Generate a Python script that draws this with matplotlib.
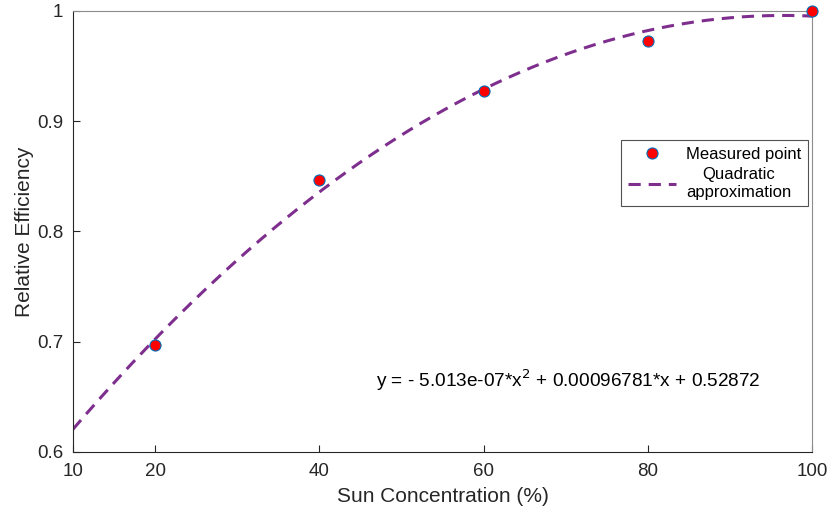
import numpy as np
import matplotlib
matplotlib.use("Agg")
import matplotlib.pyplot as plt

plt.rcParams['font.family'] = ['Liberation Sans', 'DejaVu Sans']

# measured data
conc = [20, 40, 60, 80, 100]
eff = [0.697, 0.847, 0.927, 0.973, 1.0]

# quadratic fit coefficients (x in W/m^2 = 10 * percent)
a2 = -5.013e-07
a1 = 0.00096781
a0 = 0.52872
eq_text = r"y = - 5.013e-07*x$^{2}$ + 0.00096781*x + 0.52872"

xticks = [10, 20, 40, 60, 80, 100]
yticks = [0.6, 0.7, 0.8, 0.9, 1.0]
yticklabels = ["0.6", "0.7", "0.8", "0.9", "1"]

fig = plt.figure(figsize=(8.29, 5.17), dpi=100)
ax = fig.add_axes([0.088, 0.126, 0.8915, 0.853])

xf = np.linspace(10, 100, 300)
yf = a2 * (10 * xf) ** 2 + a1 * (10 * xf) + a0
ax.plot(conc, eff, 'o', color='red', markeredgecolor=(0.0, 0.447, 0.741),
        markeredgewidth=0.8, markersize=8, label='Measured point', zorder=3,
        clip_on=False)
ax.plot(xf, yf, '--', color=(0.494, 0.184, 0.556), linewidth=2.2,
        dashes=(4, 2.6), label='Quadratic\napproximation', zorder=2)

ax.set_xlim(10, 100)
ax.set_ylim(0.6, 1.0)
ax.set_xticks(xticks)
ax.set_yticks(yticks)
ax.set_yticklabels(yticklabels)
ax.tick_params(direction='in', labelsize=13.5, colors='#262626', length=5)
ax.tick_params(axis='y', pad=7)
ax.tick_params(axis='x', pad=8)
for s in ['left', 'bottom']:
    ax.spines[s].set_color('#262626')
for s in ['top', 'right']:
    ax.spines[s].set_color('#8c8c8c')
ax.set_xlabel('Sun Concentration (%)', fontsize=15, color='#262626', labelpad=5)
ax.set_ylabel('Relative Efficiency', fontsize=15, color='#262626', labelpad=2)

leg = ax.legend(loc='upper right', bbox_to_anchor=(0.9946, 0.7075), fontsize=12,
                frameon=True, fancybox=False, edgecolor='#262626',
                handlelength=2.9, borderpad=0.4, labelspacing=0.35,
                handletextpad=0.6, borderaxespad=0)
for t in leg.get_texts():
    t.set_ha('center')
leg.get_frame().set_linewidth(0.8)

ax.text(46.9, 0.6585, eq_text, fontsize=13.7, color='black')

fig.savefig('out.png', dpi=100)
